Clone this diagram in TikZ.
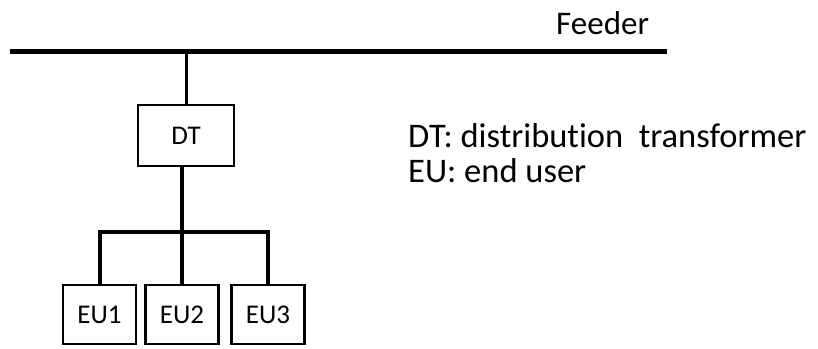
\documentclass[tikz,border=0pt]{standalone}
\usepackage{fontspec}
\setmainfont{Carlito}[RawFeature={-liga}]
\begin{document}
\begin{tikzpicture}[x=1pt,y=-1pt,
  unitbox/.style={draw=black,line width=2.5pt,inner sep=0pt,
    font=\fontsize{27}{32}\selectfont},
  dtbox/.style={unitbox,minimum width=96pt,minimum height=61pt},
  eubox/.style={unitbox,minimum width=73pt,minimum height=59pt},
  legend/.style={anchor=base west,inner sep=0pt,font=\fontsize{34.5}{40}\selectfont},
  feederline/.style={line width=5pt},
  tap/.style={line width=3pt},
  wire/.style={line width=4pt,line join=miter}]
\useasboundingbox (0,0) rectangle (818,348);

% feeder bus
\coordinate (feedL) at (10,51);
\coordinate (feedR) at (667,51);
\draw[feederline] (feedL) -- (feedR);
\node[legend,font=\fontsize{33}{40}\selectfont] (feedlabel) at (556,34) {Feeder};

% distribution transformer and end users
\node[dtbox] (DT) at (186,135.5) {DT};
\node[eubox] (EU1) at (99.5,314.5) {EU1};
\node[eubox] (EU2) at (182,314.5) {EU2};
\node[eubox] (EU3) at (268,314.5) {EU3};
\coordinate (bus) at (183,232);

% connections
\draw[tap] (DT.north) -- (DT.north |- feedL);
\draw[wire] (EU2.north) -- (EU2.north |- DT.south);
\draw[wire] (EU1.north) |- (bus) -| (EU3.north);

% legend
\node[legend] (leg1) at (408,147) {DT: distribution\ \ transformer};
\node[legend] (leg2) at (408,182) {EU: end user};
\end{tikzpicture}
\end{document}
